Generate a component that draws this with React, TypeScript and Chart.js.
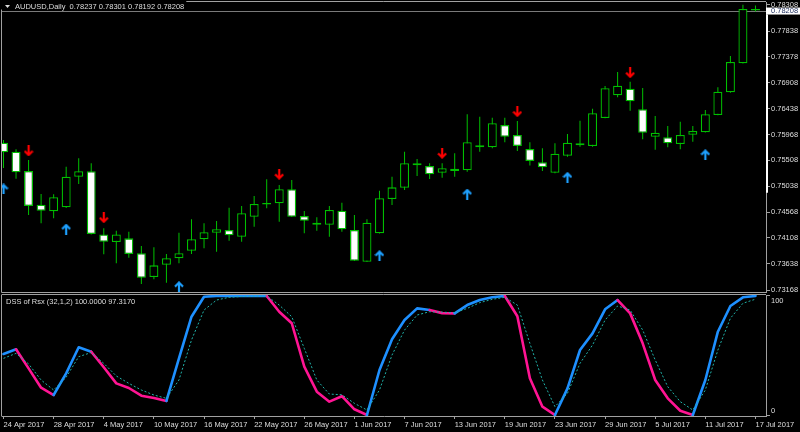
import React, { useEffect, useRef } from 'react';
import { Chart, registerables } from 'chart.js';

Chart.register(...registerables);

// ---------- data ----------
const SYMBOL = 'AUDUSD,Daily';
const DATE_LABELS = [
  '24 Apr 2017', '28 Apr 2017', '4 May 2017', '10 May 2017', '16 May 2017', '22 May 2017',
  '26 May 2017', '1 Jun 2017', '7 Jun 2017', '13 Jun 2017', '19 Jun 2017', '23 Jun 2017',
  '29 Jun 2017', '5 Jul 2017', '11 Jul 2017', '17 Jul 2017',
];
const LABEL_STEP = 4;

const OPEN = [
  0.75825, 0.75662, 0.75314, 0.74706, 0.74587, 0.74659, 0.75211, 0.75309, 0.74171, 0.74034,
  0.74100, 0.73830, 0.73402, 0.73624, 0.73740, 0.73877, 0.74082, 0.74201, 0.74250, 0.74129,
  0.74490, 0.74710, 0.74732, 0.74984, 0.74503, 0.74382, 0.74346, 0.74598, 0.74250, 0.73678,
  0.74191, 0.74809, 0.75013, 0.75453, 0.75404, 0.75283, 0.75314, 0.75327, 0.75778, 0.75742,
  0.76144, 0.75963, 0.75711, 0.75471, 0.75283, 0.75590, 0.75778, 0.75765, 0.76270, 0.76679,
  0.76798, 0.76427, 0.75933, 0.75922, 0.75801, 0.75969, 0.76012, 0.76324, 0.76733, 0.77257,
  0.78237,
];
const HIGH = [
  0.75873, 0.75706, 0.75513, 0.74899, 0.74894, 0.75392, 0.75543, 0.75453, 0.74281, 0.74237,
  0.74219, 0.73962, 0.73938, 0.73817, 0.74201, 0.74443, 0.74371, 0.74412, 0.74652, 0.74683,
  0.74863, 0.75164, 0.75062, 0.75152, 0.74593, 0.74479, 0.74683, 0.74742, 0.74521, 0.74443,
  0.74959, 0.75211, 0.75662, 0.75531, 0.75453, 0.75453, 0.75633, 0.76337, 0.76293, 0.76276,
  0.76276, 0.76216, 0.75834, 0.75724, 0.75814, 0.75981, 0.76221, 0.76438, 0.76847, 0.77100,
  0.76925, 0.76811, 0.76306, 0.76126, 0.76203, 0.76126, 0.76414, 0.76824, 0.77388, 0.78313,
  0.78301,
];
const LOW = [
  0.75368, 0.75175, 0.74521, 0.74371, 0.74461, 0.74647, 0.75080, 0.74169, 0.73812, 0.73650,
  0.73751, 0.73276, 0.73361, 0.73300, 0.73650, 0.73817, 0.73920, 0.73859, 0.74057, 0.74039,
  0.74310, 0.74641, 0.74400, 0.74484, 0.74191, 0.74237, 0.74129, 0.74219, 0.73691, 0.73673,
  0.74187, 0.74701, 0.74972, 0.75224, 0.75170, 0.75194, 0.75211, 0.75301, 0.75662, 0.75724,
  0.75834, 0.75675, 0.75414, 0.75314, 0.75273, 0.75572, 0.75752, 0.75752, 0.76264, 0.76643,
  0.76402, 0.75886, 0.75696, 0.75742, 0.75706, 0.75843, 0.76008, 0.76319, 0.76726, 0.77253,
  0.78192,
];
const CLOSE = [
  0.75652, 0.75291, 0.74683, 0.74598, 0.74840, 0.75211, 0.75309, 0.74178, 0.74039, 0.74171,
  0.73817, 0.73390, 0.73613, 0.73740, 0.73830, 0.74082, 0.74209, 0.74263, 0.74154, 0.74551,
  0.74719, 0.74737, 0.74984, 0.74490, 0.74418, 0.74346, 0.74611, 0.74263, 0.73696, 0.74382,
  0.74822, 0.75019, 0.75453, 0.75417, 0.75255, 0.75363, 0.75356, 0.75834, 0.75742, 0.76174,
  0.75933, 0.75765, 0.75494, 0.75381, 0.75626, 0.75825, 0.75814, 0.76355, 0.76806, 0.76853,
  0.76571, 0.76005, 0.76005, 0.75814, 0.75963, 0.76036, 0.76337, 0.76744, 0.77280, 0.78237,
  0.78208,
];

const DOWN_ARROW_BARS = [2, 8, 22, 35, 41, 50];
const DOWN_ARROW_PRICES = [0.75675, 0.74472, 0.75255, 0.75633, 0.76384, 0.77087];
const UP_ARROW_BARS = [0, 5, 14, 30, 37, 45, 56];
const UP_ARROW_PRICES = [0.74990, 0.74268, 0.73228, 0.73787, 0.74899, 0.75201, 0.75608];

const PRICE_TICKS = [
  0.73168, 0.73638, 0.74108, 0.74568, 0.75038, 0.75508, 0.75968, 0.76438, 0.76908, 0.77378,
  0.77838, 0.78308,
];
const PRICE_MIN = 0.73132;
const PRICE_MAX = 0.78362;
const AXIS_HIGHLIGHT = [0.78208, 0.7492];

const INDICATOR_NAME = 'DSS of Rsx (32,1,2)';
const DSS = [
  51.3, 55.2, 39.2, 22.9, 16.8, 35.0, 56.9, 53.2, 40.1, 26.6,
  22.7, 16.2, 14.3, 11.8, 47.6, 82.6, 99.4, 100, 100, 100,
  100, 100, 86.8, 77.1, 40.6, 19.6, 11.2, 15.8, 4.8, 0,
  37.8, 63.6, 79.8, 89.6, 88.2, 85.6, 85.4, 92.4, 96.6, 98.9,
  100, 83.0, 30.8, 7.0, 0, 22.4, 54.6, 68.6, 88.8, 96.6,
  85.4, 60.2, 29.4, 14.0, 3.6, 0, 29.4, 70.0, 91.6, 98.9,
  100,
];
const SIGNAL = [
  47.6, 51.8, 42.9, 29.4, 21.0, 31.7, 49.0, 52.5, 43.4, 32.8,
  26.6, 21.0, 16.8, 14.0, 29.4, 63.0, 88.2, 96.6, 98.9, 99.6,
  99.9, 100, 92.4, 82.6, 56.0, 29.4, 17.6, 17.0, 9.8, 4.2,
  21.0, 50.4, 71.4, 84.0, 86.8, 86.4, 85.9, 89.6, 94.4, 97.2,
  98.9, 92.4, 60.2, 29.4, 7.0, 18.2, 43.4, 58.8, 79.8, 91.6,
  88.2, 71.4, 46.2, 23.8, 11.2, 4.2, 21.0, 54.6, 81.3, 93.9,
  97.317,
];
const DSS_TICKS = [0, 100];
const DSS_MIN = -0.84;
const DSS_MAX = 100.84;

const X_MIN = -0.12;
const X_MAX = 60.84;

// ---------- style ----------
const FONT = { family: '"Liberation Sans", Arial, sans-serif', size: 7.5 };
const FONT_CSS = '7.5px "Liberation Sans", Arial, sans-serif';
const TEXT = '#dedede';
const AXIS_GREY = '#a0a0a0';
const GREEN = '#00c000';
const BLUE = '#1e90ff';
const MAGENTA = '#ff1493';
const TEAL = '#20b2aa';
const UP_COLOR = '#1ea0ff';
const DOWN_COLOR = '#ff0000';

function makeArrow(color: string, up: boolean): HTMLCanvasElement {
  const c = document.createElement('canvas');
  c.width = 10;
  c.height = 11;
  const g = c.getContext('2d')!;
  g.strokeStyle = color;
  g.lineWidth = 2.2;
  g.lineJoin = 'miter';
  if (!up) {
    g.translate(0, 11);
    g.scale(1, -1);
  }
  g.beginPath();
  g.moveTo(1, 5.5);
  g.lineTo(5, 1.5);
  g.lineTo(9, 5.5);
  g.stroke();
  g.beginPath();
  g.moveTo(5, 2);
  g.lineTo(5, 11);
  g.stroke();
  return c;
}

const fmt = (v: number) => v.toFixed(5);

export default function App() {
  const mainRef = useRef<HTMLCanvasElement>(null);
  const indRef = useRef<HTMLCanvasElement>(null);

  useEffect(() => {
    document.body.style.margin = '0';
    document.body.style.background = '#000';
    const last = CLOSE.length - 1;

    const mainPlugin = {
      id: 'mtMain',
      beforeDatasetsDraw(chart: any) {
        const { ctx, chartArea: a, scales } = chart;
        const yb = Math.round(scales.y.getPixelForValue(CLOSE[last])) + 0.5;
        ctx.save();
        ctx.strokeStyle = '#7a7a7a';
        ctx.lineWidth = 1;
        ctx.beginPath();
        ctx.moveTo(a.left, yb);
        ctx.lineTo(a.right, yb);
        ctx.stroke();
        ctx.restore();
      },
      afterDraw(chart: any) {
        const { ctx, chartArea: a, scales, width, height } = chart;
        const y = scales.y;
        ctx.save();
        // frame
        ctx.strokeStyle = AXIS_GREY;
        ctx.lineWidth = 1;
        ctx.beginPath();
        ctx.moveTo(a.left - 0.5, a.bottom + 0.5);
        ctx.lineTo(a.left - 0.5, a.top - 0.5);
        ctx.lineTo(a.right, a.top - 0.5);
        ctx.moveTo(a.left - 0.5, a.bottom + 0.5);
        ctx.lineTo(a.right, a.bottom + 0.5);
        ctx.moveTo(a.left - 0.5, height - 0.5);
        ctx.lineTo(a.right, height - 0.5);
        ctx.stroke();
        // highlighted part of the price axis
        ctx.strokeStyle = '#ffffff';
        ctx.lineWidth = 2;
        ctx.beginPath();
        ctx.moveTo(a.right + 1, y.getPixelForValue(AXIS_HIGHLIGHT[0]) + 4);
        ctx.lineTo(a.right + 1, y.getPixelForValue(AXIS_HIGHLIGHT[1]));
        ctx.stroke();
        // bid price box
        const yb = y.getPixelForValue(CLOSE[last]);
        ctx.fillStyle = '#ffffff';
        ctx.fillRect(a.right, yb - 3, width - a.right, 7);
        ctx.fillStyle = '#1c2c5c';
        ctx.font = FONT_CSS;
        ctx.textBaseline = 'middle';
        ctx.textAlign = 'left';
        ctx.fillText(fmt(CLOSE[last]), a.right + 5, yb + 0.5);
        // title
        const title = `${SYMBOL}  ${fmt(OPEN[last])} ${fmt(HIGH[last])} ${fmt(LOW[last])} ${fmt(CLOSE[last])}`;
        const tw = ctx.measureText(title).width;
        ctx.fillStyle = '#000';
        ctx.fillRect(0, 0, 15 + tw + 2, 9.5);
        ctx.fillStyle = TEXT;
        ctx.beginPath();
        ctx.moveTo(5, 5);
        ctx.lineTo(10, 5);
        ctx.lineTo(7.5, 8);
        ctx.closePath();
        ctx.fill();
        ctx.fillText(title, 15, 6.5);
        ctx.restore();
      },
    };

    const upImg = makeArrow(UP_COLOR, true);
    const downImg = makeArrow(DOWN_COLOR, false);

    const main = new Chart(mainRef.current!, {
      type: 'bar',
      data: {
        datasets: [
          {
            type: 'bar',
            data: OPEN.map((_, i) => ({ x: i, y: [LOW[i], HIGH[i]] })) as any,
            backgroundColor: GREEN,
            borderWidth: 0,
            barThickness: 1,
            grouped: false,
            inflateAmount: 0,
            order: 3,
          } as any,
          {
            type: 'bar',
            data: OPEN.map((o, i) => ({ x: i, y: [o, CLOSE[i]] })) as any,
            backgroundColor: OPEN.map((o, i) => (CLOSE[i] < o ? '#ffffff' : '#000000')),
            borderColor: GREEN,
            borderWidth: 1.3,
            borderSkipped: false,
            barThickness: 9,
            grouped: false,
            inflateAmount: 0,
            order: 2,
          } as any,
          {
            type: 'scatter',
            data: UP_ARROW_BARS.map((b, k) => ({ x: b, y: UP_ARROW_PRICES[k] })),
            pointStyle: upImg as any,
            order: 1,
          } as any,
          {
            type: 'scatter',
            data: DOWN_ARROW_BARS.map((b, k) => ({ x: b, y: DOWN_ARROW_PRICES[k] })),
            pointStyle: downImg as any,
            order: 1,
          } as any,
        ],
      },
      options: {
        animation: false,
        responsive: false,
        devicePixelRatio: 1,
        events: [],
        layout: { autoPadding: false, padding: { left: 2, top: 2, bottom: 3, right: 0 } },
        plugins: { legend: { display: false }, tooltip: { enabled: false } },
        scales: {
          x: {
            type: 'linear',
            min: X_MIN,
            max: X_MAX,
            offset: false,
            grid: { offset: false },
            display: false,
          },
          y: {
            type: 'linear',
            position: 'right',
            min: PRICE_MIN,
            max: PRICE_MAX,
            afterBuildTicks: (s: any) => {
              s.ticks = PRICE_TICKS.map((v) => ({ value: v }));
            },
            afterFit: (s: any) => {
              s.width = 34;
              s.paddingTop = 0;
              s.paddingBottom = 0;
            },
            ticks: {
              callback: (v: any) => Number(v).toFixed(5),
              font: FONT,
              color: TEXT,
              padding: 1,
            },
            grid: { drawOnChartArea: false, tickLength: 4, color: AXIS_GREY },
            border: { color: AXIS_GREY },
          } as any,
        },
      },
      plugins: [mainPlugin],
    } as any);

    const indPlugin = {
      id: 'mtInd',
      afterDraw(chart: any) {
        const { ctx, chartArea: a } = chart;
        ctx.save();
        ctx.strokeStyle = AXIS_GREY;
        ctx.lineWidth = 1;
        ctx.beginPath();
        ctx.moveTo(a.left - 0.5, a.top);
        ctx.lineTo(a.left - 0.5, a.bottom + 0.5);
        ctx.stroke();
        ctx.fillStyle = TEXT;
        ctx.font = FONT_CSS;
        ctx.textBaseline = 'middle';
        ctx.textAlign = 'left';
        const last = DSS.length - 1;
        ctx.fillText(`${INDICATOR_NAME} ${DSS[last].toFixed(4)} ${SIGNAL[last].toFixed(4)}`, 6, 6.7);
        ctx.restore();
      },
    };

    const ind = new Chart(indRef.current!, {
      type: 'line',
      data: {
        datasets: [
          {
            data: SIGNAL.map((v, i) => ({ x: i, y: v })),
            borderColor: TEAL,
            borderWidth: 1,
            borderDash: [2, 2],
            pointRadius: 0,
            tension: 0,
            order: 0,
          },
          {
            data: DSS.map((v, i) => ({ x: i, y: v })),
            borderColor: BLUE,
            borderWidth: 2.6,
            borderJoinStyle: 'round',
            borderCapStyle: 'round',
            pointRadius: 0,
            tension: 0,
            order: 1,
            segment: {
              borderColor: (c: any) =>
                DSS[c.p1DataIndex] >= SIGNAL[c.p1DataIndex] ? BLUE : MAGENTA,
            },
          },
        ],
      },
      options: {
        animation: false,
        responsive: false,
        devicePixelRatio: 1,
        events: [],
        layout: { autoPadding: false, padding: { left: 2, top: 0, bottom: 0, right: 0 } },
        plugins: { legend: { display: false }, tooltip: { enabled: false } },
        scales: {
          x: {
            type: 'linear',
            position: 'bottom',
            min: X_MIN,
            max: X_MAX,
            offset: false,
            afterBuildTicks: (s: any) => {
              s.ticks = DATE_LABELS.map((_, k) => ({ value: k * LABEL_STEP }));
            },
            afterFit: (s: any) => {
              s.height = 16;
              s.paddingLeft = 0;
              s.paddingRight = 0;
            },
            ticks: {
              callback: (_v: any, idx: number) => DATE_LABELS[idx],
              align: 'start',
              maxRotation: 0,
              minRotation: 0,
              autoSkip: false,
              font: FONT,
              color: TEXT,
              padding: 1,
            },
            grid: { drawOnChartArea: false, tickLength: 3, color: AXIS_GREY },
            border: { color: AXIS_GREY },
          } as any,
          y: {
            type: 'linear',
            position: 'right',
            min: DSS_MIN,
            max: DSS_MAX,
            afterBuildTicks: (s: any) => {
              s.ticks = DSS_TICKS.map((v) => ({ value: v }));
            },
            afterFit: (s: any) => {
              s.width = 34;
              s.paddingTop = 0;
              s.paddingBottom = 0;
            },
            ticks: {
              callback: (v: any) => (Number(v) >= 100 ? ['', String(v)] : [String(v), '']),
              font: FONT,
              color: TEXT,
              padding: 1,
            },
            grid: { drawOnChartArea: false, tickLength: 4, color: AXIS_GREY },
            border: { color: AXIS_GREY },
          } as any,
        },
      },
      plugins: [indPlugin],
    } as any);

    return () => {
      main.destroy();
      ind.destroy();
    };
  }, []);

  return (
    <div style={{ width: 800, height: 432, background: '#000' }}>
      <canvas ref={mainRef} width={800} height={295} style={{ display: 'block', background: '#000' }} />
      <canvas ref={indRef} width={800} height={137} style={{ display: 'block', background: '#000' }} />
    </div>
  );
}
